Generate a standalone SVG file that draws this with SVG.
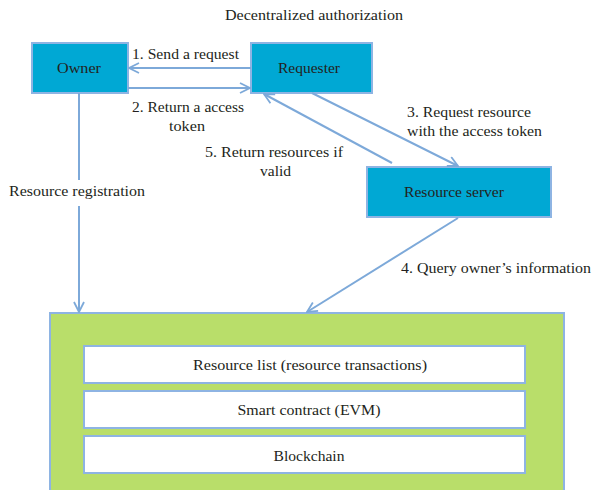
<svg xmlns="http://www.w3.org/2000/svg" width="593" height="490" viewBox="0 0 593 490">
  <style>
    text { font-family: "Liberation Serif", "DejaVu Serif", serif; font-size: 15px; fill: #231f20; }
    .mid { text-anchor: middle; }
    .node { fill: #00a8d4; stroke: #8eb4e3; stroke-width: 2; }
    .layer { fill: #ffffff; stroke: #8eb4e3; stroke-width: 2; }
    .chain { fill: #b9de6a; stroke: #8eb4e3; stroke-width: 2; }
    .link { fill: none; stroke: #7da9d9; stroke-width: 2; marker-end: url(#head); }
    .plain { fill: none; stroke: #7da9d9; stroke-width: 2; }
  </style>
  <defs>
    <marker id="head" viewBox="0 0 12 12" refX="11" refY="6" markerWidth="12" markerHeight="12" markerUnits="userSpaceOnUse" orient="auto">
      <path d="M1,1 L11,6 L1,11" fill="none" stroke="#7da9d9" stroke-width="1.8"/>
    </marker>
  </defs>

  <text class="mid" x="314" y="20" textLength="178" lengthAdjust="spacingAndGlyphs">Decentralized authorization</text>

  <!-- blockchain platform -->
  <g id="platform">
    <rect class="chain" x="50" y="313" width="514" height="190"/>
    <rect class="layer" x="84" y="346" width="441" height="37"/>
    <text class="mid" x="310" y="370" textLength="234" lengthAdjust="spacingAndGlyphs">Resource list (resource transactions)</text>
    <rect class="layer" x="84" y="391" width="441" height="37"/>
    <text class="mid" x="309" y="415" textLength="143" lengthAdjust="spacingAndGlyphs">Smart contract (EVM)</text>
    <rect class="layer" x="84" y="436" width="441" height="37"/>
    <text class="mid" x="309" y="461" textLength="71" lengthAdjust="spacingAndGlyphs">Blockchain</text>
  </g>

  <g id="owner">
    <rect class="node" x="32" y="43" width="96" height="50"/>
    <text class="mid" x="79" y="73" textLength="44" lengthAdjust="spacingAndGlyphs">Owner</text>
  </g>
  <g id="requester">
    <rect class="node" x="251" y="43" width="121" height="50"/>
    <text class="mid" x="309" y="73" textLength="62" lengthAdjust="spacingAndGlyphs">Requester</text>
  </g>
  <g id="resource-server">
    <rect class="node" x="367" y="167" width="184" height="50"/>
    <text class="mid" x="454" y="197" textLength="100" lengthAdjust="spacingAndGlyphs">Resource server</text>
  </g>

  <g id="connectors">
    <line class="link" x1="251" y1="68" x2="129" y2="68"/>
    <line class="link" x1="128" y1="88" x2="250" y2="88"/>
    <line class="link" x1="312" y1="93" x2="458" y2="166"/>
    <line class="link" x1="392" y1="163" x2="264" y2="94"/>
    <line class="plain" x1="79" y1="93" x2="79" y2="180"/>
    <line class="link" x1="79" y1="206" x2="79" y2="312"/>
    <line class="link" x1="458" y1="218" x2="307" y2="312"/>
  </g>

  <g id="labels">
    <text x="132" y="59" textLength="107" lengthAdjust="spacingAndGlyphs">1. Send a request</text>
    <text x="132" y="112" textLength="112" lengthAdjust="spacingAndGlyphs">2. Return a access</text>
    <text x="169" y="131" textLength="36" lengthAdjust="spacingAndGlyphs">token</text>
    <text x="407" y="117" textLength="124" lengthAdjust="spacingAndGlyphs">3. Request resource</text>
    <text x="407" y="136" textLength="135" lengthAdjust="spacingAndGlyphs">with the access token</text>
    <text x="205" y="157" textLength="138" lengthAdjust="spacingAndGlyphs">5. Return resources if</text>
    <text x="260" y="176" textLength="31" lengthAdjust="spacingAndGlyphs">valid</text>
    <text x="9" y="196" textLength="136" lengthAdjust="spacingAndGlyphs">Resource registration</text>
    <text x="401" y="273" textLength="190" lengthAdjust="spacingAndGlyphs">4. Query owner’s information</text>
  </g>
</svg>
